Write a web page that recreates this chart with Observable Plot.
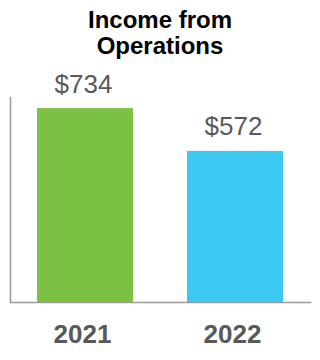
<!DOCTYPE html>
<html><head><meta charset="utf-8">
<script src="https://cdn.jsdelivr.net/npm/d3@7"></script>
<script src="https://cdn.jsdelivr.net/npm/@observablehq/plot@0.6"></script>
<style>
body{margin:0;background:#fff;font-family:"Liberation Sans",Arial,sans-serif;}
#title{width:320px;text-align:center;font-weight:bold;font-size:24px;line-height:26px;padding-top:7px;color:#000;}
#chart svg{display:block;}
</style></head><body>
<div id="title">Income from<br>Operations</div>
<div id="chart"></div>
<script>
const years = ["2021", "2022"];
const income = [734, 572];
const valueLabels = ["$734", "$572"];
const barColors = ["#7BC143", "#3CC8F0"];

const data = years.map((y, i) => ({year: y, value: income[i], label: valueLabels[i]}));

const chart = Plot.plot({
  width: 320, height: 301,
  marginTop: 38, marginBottom: 58, marginLeft: 10, marginRight: 10,
  style: {fontFamily: "Liberation Sans, Arial, sans-serif", background: "#fff"},
  x: {domain: years, paddingInner: 0.36, paddingOuter: 0.18, label: null},
  y: {domain: [0, 776], axis: null},
  color: {domain: years, range: barColors},
  marks: [
    Plot.barY(data, {x: "year", y: "value", fill: "year"}),
    Plot.frame({anchor: "left", stroke: "#9a9a9a", strokeWidth: 1.5}),
    Plot.frame({anchor: "bottom", stroke: "#9a9a9a", strokeWidth: 1.5}),
    Plot.text(data, {x: "year", y: "value", text: "label", lineAnchor: "bottom", dy: -16, dx: -2, fontSize: 26, fill: "#595959"}),
    Plot.axisX({tickSize: 0, tickPadding: 22, fontSize: 26, fontWeight: "bold", fill: "#595959", label: null, dx: -3})
  ]
});
document.getElementById("chart").appendChild(chart);
</script>
</body></html>
